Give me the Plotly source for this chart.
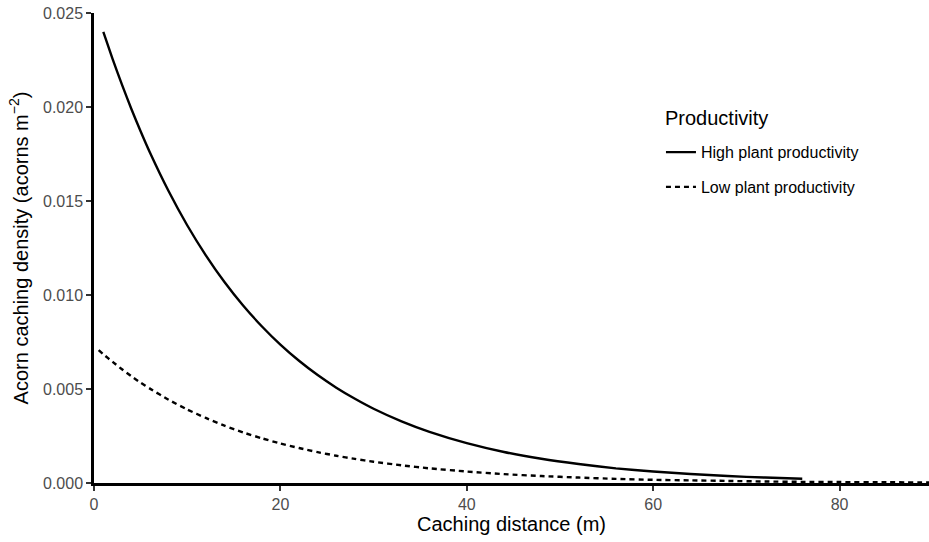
import plotly.graph_objects as go

# Caching distance (m) and densities
high_x = [1, 2, 3, 4, 5, 6, 8, 10, 12, 14, 16, 18, 20, 22, 24, 26, 28, 30, 33, 36,
          40, 44, 48, 52, 56, 60, 64, 68, 72, 76]
high_y = [0.0240, 0.02255, 0.02119, 0.01991, 0.01871, 0.01758, 0.01553, 0.01371,
          0.01211, 0.01069, 0.00944, 0.00834, 0.00736, 0.00650, 0.00574, 0.00507,
          0.00448, 0.00395, 0.00328, 0.00272, 0.00212, 0.00165, 0.00129, 0.00101,
          0.00078, 0.00061, 0.00048, 0.00037, 0.00029, 0.00023]

low_x = [0.5, 1, 2, 3, 4, 5, 6, 8, 10, 12, 14, 16, 18, 20, 22, 24, 26, 28, 30, 33,
         36, 40, 44, 48, 52, 56, 60, 64, 68, 72, 76, 80, 85, 90]
low_y = [0.00707, 0.00685, 0.00644, 0.00605, 0.00568, 0.00534, 0.00502, 0.00443,
         0.00391, 0.00346, 0.00305, 0.00269, 0.00238, 0.00210, 0.00186, 0.00164,
         0.00145, 0.00128, 0.00113, 0.00094, 0.00078, 0.00061, 0.00047, 0.00037,
         0.00029, 0.00022, 0.00017, 0.00014, 0.00011, 0.00008, 0.00006, 0.00005,
         0.00004, 0.00003]

x_ticks = [0, 20, 40, 60, 80]
y_ticks = [0.000, 0.005, 0.010, 0.015, 0.020, 0.025]
y_tick_labels = ["0.000", "0.005", "0.010", "0.015", "0.020", "0.025"]

FONT = "Liberation Sans, Arial, sans-serif"

fig = go.Figure()
fig.add_trace(go.Scatter(
    x=high_x, y=high_y, mode="lines", name="High plant productivity",
    legendgroup="high",
    line=dict(color="black", width=2.4, shape="spline", smoothing=0.6),
))
fig.add_trace(go.Scatter(
    x=low_x, y=low_y, mode="lines", name="Low plant productivity",
    legendgroup="low",
    line=dict(color="black", width=2.4, dash="5px,4px", shape="spline", smoothing=0.6),
))

fig.add_annotation(
    text="Productivity", xref="paper", yref="paper",
    x=0.6815, y=0.777, xanchor="left", yanchor="middle", showarrow=False,
    font=dict(size=20, color="black", family=FONT),
)

fig.update_layout(
    width=929, height=542,
    margin=dict(l=94, r=0, t=13, b=59),
    paper_bgcolor="white", plot_bgcolor="white",
    font=dict(family=FONT, color="black"),
    showlegend=True,
    legend=dict(
        font=dict(size=16, color="black"),
        x=0.679, y=0.740, xanchor="left", yanchor="top",
        bgcolor="rgba(0,0,0,0)", itemwidth=30,
        traceorder="grouped", tracegroupgap=11,
    ),
    xaxis=dict(
        range=[0, 89.6], tickvals=x_ticks, ticktext=[str(v) for v in x_ticks],
        showgrid=False, zeroline=False, showline=True, linecolor="black", linewidth=2.5,
        ticks="outside", ticklen=5, tickwidth=1.5, tickcolor="#333333",
        tickfont=dict(size=16, color="#4D4D4D"),
        title=dict(text="Caching distance (m)", font=dict(size=20, color="black"), standoff=5),
    ),
    yaxis=dict(
        range=[0, 0.025], tickvals=y_ticks, ticktext=y_tick_labels,
        showgrid=False, zeroline=False, showline=True, linecolor="black", linewidth=2.5,
        ticks="outside", ticklen=5, tickwidth=1.5, tickcolor="#333333",
        tickfont=dict(size=16, color="#4D4D4D"),
        title=dict(text="Acorn caching density (acorns m<sup>\u22122</sup>)",
                   font=dict(size=20, color="black"), standoff=10),
    ),
)

fig.write_html(
    "out.html",
    config={"displayModeBar": False},
    post_script="document.body.style.margin='0';document.body.style.overflow='hidden';",
)
